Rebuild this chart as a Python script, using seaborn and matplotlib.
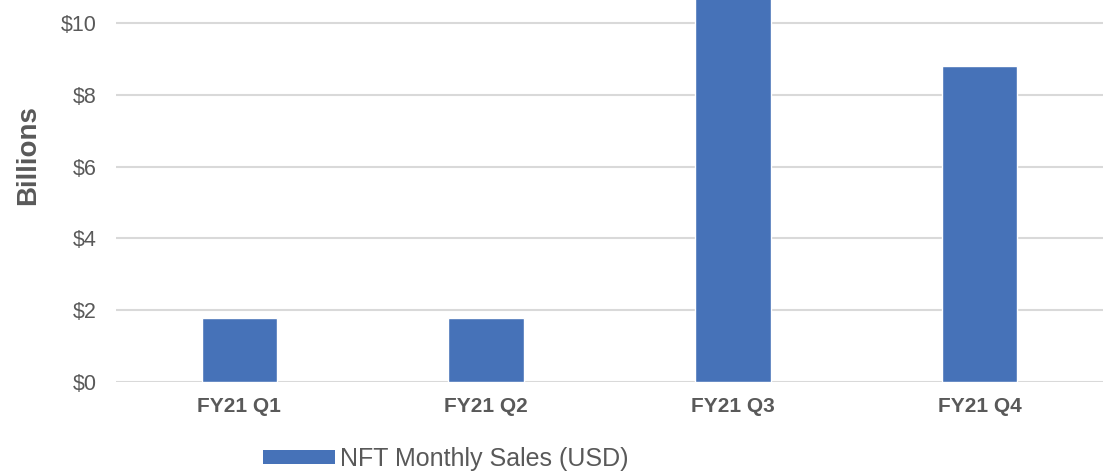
import matplotlib
matplotlib.use("Agg")
import matplotlib.pyplot as plt
import seaborn as sns
import pandas as pd
from matplotlib.patches import Patch

# NFT sales per quarter, USD billions
quarters = ["FY21 Q1", "FY21 Q2", "FY21 Q3", "FY21 Q4"]
sales = [1.77, 1.77, 10.7, 8.8]
y_ticks = [0, 2, 4, 6, 8, 10]
series_name = "NFT Monthly Sales (USD)"

df = pd.DataFrame({"quarter": quarters, "sales": sales})

sns.set_style("white")
plt.rcParams["font.family"] = ["Liberation Sans", "DejaVu Sans"]

bar_color = "#4672b8"
text_color = "#595959"

fig = plt.figure(figsize=(11.06, 4.72), dpi=100)
ax = fig.add_axes([116 / 1106, (472 - 382) / 472, 987 / 1106, 382 / 472])

sns.barplot(data=df, x="quarter", y="sales", color=bar_color, width=0.305,
            saturation=1, ax=ax, zorder=3)

ax.set_ylim(0, 10 + 23 / 35.9)
ax.set_xlim(-0.5, 3.5)
ax.set_yticks(y_ticks)
ax.set_yticklabels([f"${v}" for v in y_ticks], color=text_color, fontsize=15.5)
ax.grid(axis="y", color="#d9d9d9", linewidth=1.5, zorder=0)
ax.tick_params(axis="both", length=0)
ax.tick_params(axis="y", pad=14)
ax.tick_params(axis="x", pad=11)
for lab in ax.get_xticklabels():
    lab.set_fontweight("bold")
    lab.set_fontsize(15)
    lab.set_color(text_color)
for s in ax.spines.values():
    s.set_visible(False)

ax.set_xlabel("")
ax.set_ylabel("")
# axis title sits higher than the axes centre in the original
fig.text(28 / 1106, 1 - 155 / 472, "Billions", rotation=90, ha="center", va="center",
         fontsize=20, fontweight="bold", color=text_color)

handle = Patch(facecolor=bar_color, edgecolor="none")
fig.legend([handle], [series_name], loc="center left",
           bbox_to_anchor=(240 / 1106, 1 - 459 / 472), frameon=False,
           fontsize=18, handlelength=2.9, handleheight=0.45, handletextpad=0.2,
           labelcolor=text_color)

fig.savefig("out.png", dpi=100)
